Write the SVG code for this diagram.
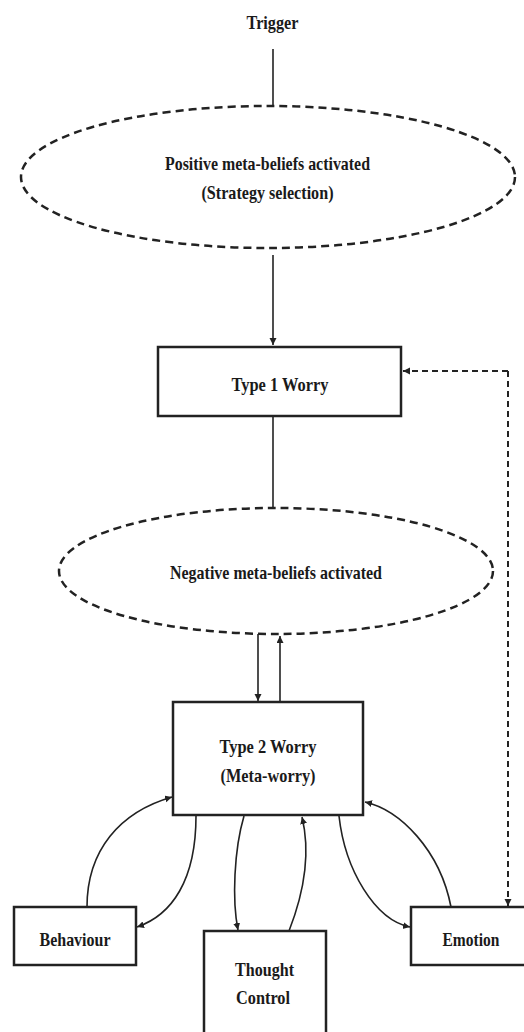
<svg xmlns="http://www.w3.org/2000/svg" width="524" height="1032" viewBox="0 0 524 1032">
<style>
text{font-family:"Liberation Serif","Times New Roman",serif;font-weight:bold;font-size:19px;fill:#1a1a1a;text-anchor:middle}
.box{fill:#fff;stroke:#222;stroke-width:2.5}
.ell{fill:none;stroke:#222;stroke-width:2.5;stroke-dasharray:8 5}
.ln{fill:none;stroke:#222;stroke-width:1.6}
.dl{fill:none;stroke:#222;stroke-width:2;stroke-dasharray:6 4}
</style>
<defs>
<marker id="ah" markerUnits="userSpaceOnUse" markerWidth="8" markerHeight="8" refX="7" refY="3.5" orient="auto">
<path d="M0,0 L7,3.5 L0,7 z" fill="#222"/>
</marker>
</defs>
<rect width="524" height="1032" fill="#fff"/>
<g id="connectors">
<line class="ln" x1="273" y1="49" x2="273" y2="105"/>
<line class="ln" x1="273" y1="255" x2="273" y2="345" marker-end="url(#ah)"/>
<line class="ln" x1="273" y1="416" x2="273" y2="508"/>
<line class="ln" x1="258" y1="634" x2="258" y2="701" marker-end="url(#ah)"/>
<line class="ln" x1="280" y1="702" x2="280" y2="636" marker-end="url(#ah)"/>
<line class="dl" x1="508" y1="371" x2="403" y2="371" marker-end="url(#ah)"/>
<line class="dl" x1="508" y1="371" x2="508" y2="906" marker-end="url(#ah)"/>
<path class="ln" d="M87,907 C87,850 120,812 172,797" marker-end="url(#ah)"/>
<path class="ln" d="M196,816 C196,880 172,915 137,927" marker-end="url(#ah)"/>
<path class="ln" d="M244,816 C234,850 232,900 238,930" marker-end="url(#ah)"/>
<path class="ln" d="M289,931 C305,890 310,850 302,817" marker-end="url(#ah)"/>
<path class="ln" d="M339,816 C345,870 375,920 410,927" marker-end="url(#ah)"/>
<path class="ln" d="M451,907 C440,850 400,810 365,802" marker-end="url(#ah)"/>
</g>
<g id="trigger">
<text x="272.5" y="29" textLength="52" lengthAdjust="spacingAndGlyphs">Trigger</text>
</g>
<g id="positive">
<ellipse class="ell" cx="268" cy="177" rx="247" ry="71"/>
<text x="267.5" y="170" textLength="205" lengthAdjust="spacingAndGlyphs">Positive meta-beliefs activated</text>
<text x="267.5" y="199" textLength="132" lengthAdjust="spacingAndGlyphs">(Strategy selection)</text>
</g>
<g id="type1">
<rect class="box" x="158" y="347" width="243" height="69"/>
<text x="280" y="391" textLength="97" lengthAdjust="spacingAndGlyphs">Type 1 Worry</text>
</g>
<g id="negative">
<ellipse class="ell" cx="276" cy="571" rx="217" ry="63"/>
<text x="276" y="579" textLength="212" lengthAdjust="spacingAndGlyphs">Negative meta-beliefs activated</text>
</g>
<g id="type2">
<rect class="box" x="173" y="702" width="190" height="113"/>
<text x="268" y="753" textLength="97" lengthAdjust="spacingAndGlyphs">Type 2 Worry</text>
<text x="268" y="782" textLength="95" lengthAdjust="spacingAndGlyphs">(Meta-worry)</text>
</g>
<g id="behaviour">
<rect class="box" x="14" y="907" width="122" height="58"/>
<text x="75" y="946" textLength="71" lengthAdjust="spacingAndGlyphs">Behaviour</text>
</g>
<g id="thought">
<rect class="box" x="204" y="931" width="122" height="104"/>
<text x="264.5" y="976" textLength="59" lengthAdjust="spacingAndGlyphs">Thought</text>
<text x="263" y="1004" textLength="54" lengthAdjust="spacingAndGlyphs">Control</text>
</g>
<g id="emotion">
<rect class="box" x="411" y="907" width="116" height="58"/>
<text x="471" y="946" textLength="57" lengthAdjust="spacingAndGlyphs">Emotion</text>
</g>
</svg>
